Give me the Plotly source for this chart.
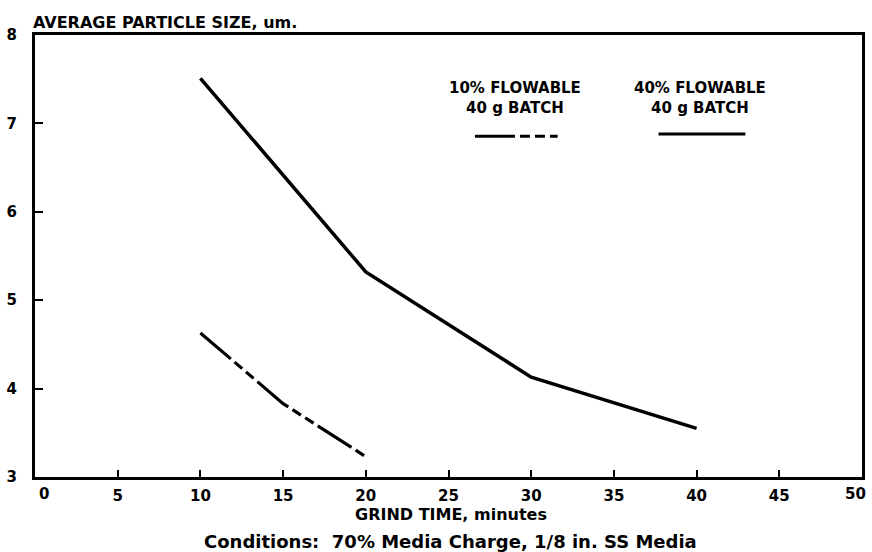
import plotly.graph_objects as go

# Data
grind_time_40 = [10, 20, 30, 40]
size_40 = [7.51, 5.32, 4.13, 3.55]

grind_time_10 = [10, 15, 20]
size_10 = [4.63, 3.83, 3.23]

x_ticks = [0, 5, 10, 15, 20, 25, 30, 35, 40, 45, 50]
y_ticks = [3, 4, 5, 6, 7, 8]

FONT = "DejaVu Sans"
DASH = "40px,5px,10px,5px,10px,5px"

fig = go.Figure()
fig.add_trace(go.Scatter(x=grind_time_40, y=size_40, mode="lines",
                         line=dict(color="black", width=3.5), showlegend=False,
                         hoverinfo="skip"))
fig.add_trace(go.Scatter(x=grind_time_10, y=size_10, mode="lines",
                         line=dict(color="black", width=3.2, dash=DASH), showlegend=False,
                         hoverinfo="skip"))

# legend samples
fig.add_shape(type="line", xref="x", yref="y", x0=26.6, x1=31.6, y0=6.855, y1=6.855,
              line=dict(color="black", width=3, dash="40px,5px,10px,5px,10px,5px"))
fig.add_shape(type="line", xref="x", yref="y", x0=37.7, x1=42.95, y0=6.88, y1=6.88,
              line=dict(color="black", width=3))

# end tick labels (0 and 50) are drawn aligned to the axis ends, as in the reference
inner_text = [str(v) if v not in (x_ticks[0], x_ticks[-1]) else "" for v in x_ticks]

tickfont = dict(family=FONT, size=15, weight="bold", color="black")
fig.update_layout(
    width=872, height=552,
    margin=dict(l=33, r=7, t=35, b=75),
    paper_bgcolor="white", plot_bgcolor="white",
    font=dict(family=FONT, color="black", size=15),
    xaxis=dict(range=[0, 50], tickvals=x_ticks, ticktext=inner_text,
               ticks="inside", ticklen=7, tickwidth=2,
               tickcolor="black", showline=True, linewidth=3, linecolor="black",
               mirror=True, showgrid=False, zeroline=False,
               tickfont=tickfont, ticklabelstandoff=3),
    yaxis=dict(range=[3, 8], tickvals=y_ticks, ticks="inside", ticklen=8, tickwidth=2,
               tickcolor="black", showline=True, linewidth=3, linecolor="black",
               mirror=True, showgrid=False, zeroline=False,
               tickfont=tickfont, ticklabelstandoff=12),
)

fig.add_annotation(text=str(x_ticks[0]), xref="x", yref="paper", x=x_ticks[0], y=0,
                   xshift=2, yshift=-17, xanchor="left", yanchor="middle",
                   showarrow=False, font=tickfont)
fig.add_annotation(text=str(x_ticks[-1]), xref="x", yref="paper", x=x_ticks[-1], y=0,
                   xshift=6, yshift=-17, xanchor="right", yanchor="middle",
                   showarrow=False, font=tickfont)

fig.add_annotation(text="AVERAGE PARTICLE SIZE, um.", xref="paper", yref="paper",
                   x=-0.005, y=1.0, yshift=13, xanchor="left", yanchor="middle",
                   showarrow=False, font=dict(family=FONT, size=16, weight="bold"))

legend_font = dict(family=FONT, size=15, weight="bold")
for xc, txt in [(29.0, "10% FLOWABLE<br>40 g BATCH"),
                (40.2, "40% FLOWABLE<br>40 g BATCH")]:
    fig.add_annotation(text=txt, xref="x", yref="y", x=xc, y=7.29,
                       xanchor="center", yanchor="middle", showarrow=False,
                       font=legend_font, align="center")

fig.add_annotation(text="GRIND TIME, minutes", xref="paper", yref="paper",
                   x=0.503, y=0, yshift=-37, xanchor="center", yanchor="middle",
                   showarrow=False, font=dict(family=FONT, size=16, weight="bold"))
fig.add_annotation(text="Conditions:  70% Media Charge, 1/8 in. SS Media",
                   xref="paper", yref="paper", x=0.503, y=0, yshift=-64,
                   xanchor="center", yanchor="middle", showarrow=False,
                   font=dict(family=FONT, size=18, weight="bold"))

fig.write_html("out.html")
